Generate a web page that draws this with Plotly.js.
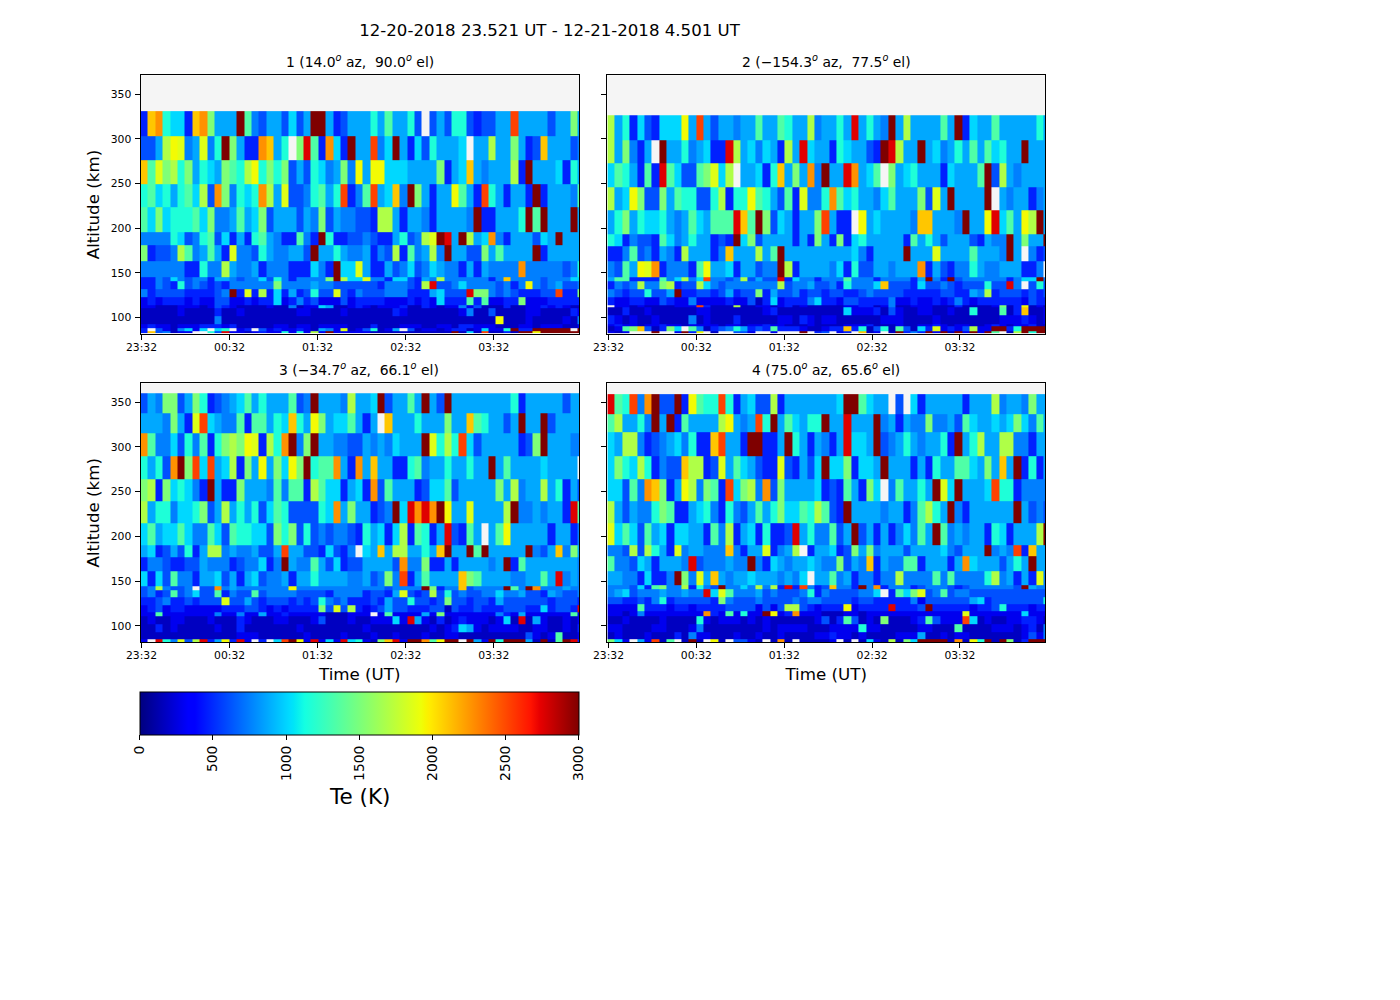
<!DOCTYPE html>
<html><head><meta charset="utf-8">
<script src="https://cdn.plot.ly/plotly-3.0.0.min.js"></script>
<style>html,body{margin:0;padding:0;background:#fff}</style></head>
<body><div id="chart" style="width:1400px;height:1000px"></div>
<script>
// Te level (K) for each letter; "_" marks a missing cell
const teLevels = {a:170,b:290,c:470,d:610,e:750,f:870,g:1010,h:1160,i:1340,j:1515,k:1690,l:1865,m:1935,n:2100,o:2270,p:2525,q:2750,r:3000};

const tickHours = [23.533,24.533,25.533,26.533,27.533];
const tickLabels = ["23:32","00:32","01:32","02:32","03:32"];
const altTicks = [100,150,200,250,300,350];
const cbarTicks = [0,500,1000,1500,2000,2500,3000];

const panelTitles = ["1 (14.0<sup><i>o</i></sup> az,  90.0<sup><i>o</i></sup> el)","2 (−154.3<sup><i>o</i></sup> az,  77.5<sup><i>o</i></sup> el)","3 (−34.7<sup><i>o</i></sup> az,  66.1<sup><i>o</i></sup> el)","4 (75.0<sup><i>o</i></sup> az,  65.6<sup><i>o</i></sup> el)"];

// altitude cell edges (km), top to bottom
const altEdges1 = [331,303,276,249.5,223,196,181.5,163.5,145.6,141,132,123,114,111,102,93,88.6,85,82];
const altEdges2 = [326.4,298.5,273,246,220.4,193.6,180,163.5,145.6,141,132,123,114,111,102,93,89.8,85,82];
const altEdges3 = [360,337.5,315,289.5,264,239,215,190,177,161,144.5,140,132,123,115.5,111,102,93,85.2,82];
const altEdges4 = [359,336.5,316.3,289.5,264,239,215,190,178,161,145.6,141,132,124,116.6,111,102,93,85.5,82];

const panel1Rows = [
"cnohggcnoj fffriedffd gdfrrfcdff fhfiffhd_d fdhhdcddff pffffdffjf",
"ddfkmlefle hrjfcconfh _jqicogcrf fpegrfcgdh fffg_ffkff jfcdnfffde",
"niljkhjfhg fjihkmhjhj dfdhgefjem fmmgggffff jcfgnfefff kcrfffgchf",
"highfhigkd ojehghokfl ddehifhpce ipfgnerjfc ffmifcphfc ffcrcfffei",
"igjghhhigj eefifgjdff fdfejdfeed dckkfcffec ffffercCff fhrirfffrf",
"eeeehgdehi dgcfchifec ciecrhccdd edccfhdekl rqfrkfgoec fffdgfrfff",
"jcddekiefi fcleedhfee ffdrffhfee fcedkciefk erffddjfif fffrcfffff",
"eeeeeecche ekfeefceee cccgecrggl fccfdegdeg feecfcfeee eoeeeeedeh",
"ccedgedeec ffedeegdhe ceeeejrkgg leecggdcfe keeeeeecen eeeedeeegg",
"ccedchdedc dceeeeeeje eeefeedddd ddceeedckq ddegeeeede cemedefdde",
"ecddddcccc derclckcgc fcdhddldce dddeeecccf gdddqjjede dcccddpccj",
"bcbcccbcbb ddbbcbccgb cecdbbbdbc cccbbbcbcb gccciCibbc cjbbbccccc",
"bbaaabbbab dcbaaaabaa eabbgfaabc babbbcaacb abbebdaaac aabbcbcbaa",
"aaaaabaaaa caabaaaaaa abbaaaabaa aaaacbaaaa aaabeaadaa aabbaaaacb",
"aaaaaaaaaa eaaaaaaaaa aaaaaaaaaa aaaaaaaaaa aaaaaaaama aabaaaabae",
"bcbbabbbcc cbcaaaaabb abbabbbbaa acaaabbbaa bbaccbbbaa abbabbbaab",
"c_dbaegbg_ gh_bc_dbcb bcbafeblab dhabf_dabb abccabgbbh rccrrrrr_r",
"cndeabb__h dqbbabcbbh bhbkbrbbbb baaaaaaaaa aaragapaac arrmrrrrrr"
];

const panel2Rows = [
"kfhcgdcggg mfpfdffeff iffihffkef fhfqfhferf kffffifrcg ffifffffhf",
"kfjecf_rff hefgccqkfg egfckfqgff chgffdcrqk ffrfgefhfi fighffrfff",
"gihfcicqig ddijlgk_ff gchnfjfoer ffqofgi_jf ghfffcgfff irdkfeffff",
"kfgmjddjfi hhddhkchhm ihfdicleeh oighffegif ffjdlfrfff fr_feffcef",
"fhjfhgghfe figfiiiqni rjdgfcffjp fcc_mfgfff fenNfffErf fmqgifmkrf",
"hgceddcige fhffcdcrgj dffffcfcjf cjcghfffff cifhfdfffd cfeerfjffr",
"cceidecfec kfffcenfff kfirffffff fffgecffff rffflffffi ffferf_ecd",
"edifmlocee ecimffgcff deerkcffff egchddffef ffocfdceeh feefffcce_",
"fiiccccieg kegpeedekd fddqcgeece eeieeeceee ecfrecrdee eeeeceggre",
"cedekeejkc ddkgedeeee eeekdeefdd echeeegndd dcgddedcdd dhddqe_dhd",
"edcddhddfr ccddcdfcdd jcfddecddc ddccdedddd cccccddccf ekcdddcdcd",
"cbbccbbdcb bebbbbcbbd acgbcccegc cbddccccEb bcbbcbcecb cccccCbdcc",
"_bbabaaaab bbpcaaakaa bbabcabaaa aabbccabea abbbaaacaa aabjacmaba",
"aacaabaaaa aabbaaaaaa abcaaaaaaa aagbbbcadb aabbaabaah aaaiacnaab",
"cbabaabaaa aeabaaacaa aaabbacbab baaaaaabbb aaaabaaaaa aaabbbcbab",
"bcbbabbcbb abbbbabbab bcbbaaabaa aabbbcaaab aabbcbabba abcbabbcaa",
"abijndacjg _ieacdehfc dcicccbaab ccnchadhai dagclbcbdk bbrrchrrrr",
"bab___r__b rcm_a__ddb __b___r_cd _bc_nab_ar cecrbrarbr bri_akrhrr"
];

const panel3Rows = [
"dfejjdfjhc defgifhfff iderfffekf fgrdffifrf drffffffff hcfffffdff",
"fffejfclpg feeiciifhg nhfmjfggif cf_nfffhff fjffnihffd frffrdffff",
"oieegdheic hjkjmlckho rejrffeedd fefegfffrl hkhpgdffff fcdjrfffee",
"hfhdorjpgp fgkcjfmfjg mjrhiiofco fnffcchief fhffhffrfi ffffgffff_",
"jkcjghgecr fccjfffeie iickiggcfg codifffcdg gidfffffjf keffkfhcfd",
"kfhhegghjd fkfhfhdgih ddddhgofjf fcdergqoqo rmfflffffk reefeffcqi",
"gifggigeei gdihhggdjh jdhdedeedc hfgcgkcihc fqdcif_fim fffffcffce",
"fgcdfdhcfk kefeefddfp ffddcgdce_ gfnfkkffhf nrffrirfff ffredfnejf",
"ceedccddfe eecdeegcer feeifdgcdd ffffdoeejc cfcffffefr cifffffffe",
"gcgdieecff gdfcfgdeef cffhffffee fdejepcfif fffnjiffff eeffifqefe",
"dekedde_dd oefeeeeeee meeeeeeeee eeedeeeerj ceendeeeer ieroeeefee",
"decdidegdd iceddideee eddddceeee cddcfldcdk dhdeddeege efddcfedde",
"ccdeccdcdd dlddfdcddd cdcdhedecc cdcfddhddc djddcddcfd dddddcdddc",
"bcdbccbbbb bcccddcbcb ccccjdldkc bcdfddcccd dadccdcccd ddccgcddcq",
"bbibbbbbbb ebbebbfbbc bbbbbaaabb b_bibbbbfb jbbbbbbbec bfbbbbbbib",
"abaabbaaab aaacbaaabb aaabdaaaba abbbgbqfba cabcbbbabg aqafbaabab",
"aacabaaaaa baacaaaaaa abaaaaaaaa baaaaaaaab abcgfbabbb baabbaabac",
"aaaaaaaaaa aaabbbaaaa aabaaaabaa abaabaaaba abbaaaaaaa aadbabiaab",
"b_qheldkqc fmcqb_c_gp rmbqbgbqgh bajnqbrroi mrr_rfbrhr rrfarairqc"
];

const panel4Rows = [
"qihpeorddr cmihhphcfg ddkcffffff fgrrigff_d _gcfffffcf ffkeffejff",
"ikffherfrc iffffkmfef phrfigfhhr ffqfffrefc feejeefdig ffgfgjgeif",
"gfkkecdefg ehccnpffcr rccfrhfcfe cfqggfrdef hfeffhcrfh kffkkeecff",
"gjhgkhcedd nkkcdlfigf dccldcfdgr ggjcggfrff fcfchffiig fjfnfrchcf",
"ggdieonjcf mkejicpgjk eodjffffgc dcifcjg_ei ffhfrlgrff fgphhceeee",
"kfdfeehjic cfghechedf ifhjggihki dcrffffeff ceikhfrecf fffffrfded",
"lgigdifgcg gffciekcfg chccdqfhee idfrdfcfce geifriefef fchgcfffkr",
"eedkdkhfcl effeeeneCf flcefk_cff gcdjfjefff dffffgedff frefepcnff",
"ieedgfcfff eqdeeefeer ecgfeffgfe ejdfencfee iicfffcfog fffdfhfrff",
"ffeecgccer jelfnfeffg fffefeg_ff iefceeceek eeeeieieee ehkefcfcle",
"eeedgcijee kchedreege kekcqcpecd neecreocee ecdeeedcde eeeeedrfee",
"efgdeeefee feeqglieee fdedddehce ddddeeg_ci gjldeideed dddddddddd",
"ddccdcehcd ddddcjeddd eddddedeed dddcddcccc cebddddddf gcdddddddh",
"bbbbicccbc cbccccdddd bdbdkkdcbc ccmbccccqc ccdrcccccb ccdhcccbcc",
"bbabebbbbb bbbocbibhb brmbcobbba aabbabbbbb bbbbbbbblb bbbbbbgbbb",
"aabaaaabaa aahbabbbab abaaaaaabd acidabajaa abcidbbbpg abaabbccba",
"bbaaaabbaa abeaaaaaaa ababbbbaaa bbbbhbbaaa aabbaaaiaa aabbbabcae",
"abaaabaaac aebbaaabaa baabaaaabb cbbabaaaab bbfaababba aaaaaabdbe",
"jgb_fbpai_ ara_ma_ddb a_aoa_aaaa b_a_agbaka jgrrrraoam hrarjacrrr"
];

function decodeRows(rows){
  return rows.map(function(s){
    var t = s.toLowerCase().replace(/[^a-r_]/g,"");
    var out = [];
    for (var i=0;i<60;i++){
      var ch = t[Math.min(i,t.length-1)];
      out.push(ch==="_" ? null : teLevels[ch]);
    }
    return out;
  }).reverse();
}

const jet = [[0,"rgb(0,0,127)"],[0.11,"rgb(0,0,255)"],[0.125,"rgb(0,0,255)"],[0.34,"rgb(0,219,255)"],[0.35,"rgb(0,229,247)"],[0.375,"rgb(20,255,226)"],[0.64,"rgb(238,255,8)"],[0.65,"rgb(247,246,0)"],[0.66,"rgb(255,236,0)"],[0.89,"rgb(255,19,0)"],[0.91,"rgb(232,0,0)"],[1,"rgb(127,0,0)"]];

const startHour = 23.521, endHour = 28.501, cellHours = 0.0841;
const xEdges = [];
for (var k=0;k<=60;k++) xEdges.push(startHour + k*cellHours);

const W=1400,H=1000;
const boxes = [[140.5,579,75.4,333.6],[607.4,1045,75.4,333.6],[140.5,579,383.4,642],[607.4,1045,383.4,642]];
const rowsAll = [panel1Rows,panel2Rows,panel3Rows,panel4Rows];
const edgesAll = [altEdges1,altEdges2,altEdges3,altEdges4];
const FONT = "DejaVu Sans";

const traces=[]; const layout={
  width:W,height:H,margin:{l:0,r:0,t:0,b:0},paper_bgcolor:"#fff",plot_bgcolor:"#f5f5f5",showlegend:false,
  font:{family:FONT,color:"#000"},
  title:{text:"12-20-2018 23.521 UT - 12-21-2018 4.501 UT",font:{family:FONT,size:16.6,color:"#000"},x:549.5/W,xanchor:"center",y:1-30/H,yanchor:"middle"},
  annotations:[{xref:"paper",yref:"paper",x:360/W,y:1-796/H,xanchor:"center",yanchor:"middle",showarrow:false,text:"Te (K)",font:{family:FONT,size:21.5,color:"#000"}}]
};
const titleFix=[360,826.5,359,826.5];
boxes.forEach(function(b,i){
  const n = i===0?"":String(i+1);
  traces.push({type:"heatmap",xaxis:"x"+n,yaxis:"y"+n,x:xEdges,y:edgesAll[i].slice().reverse(),z:decodeRows(rowsAll[i]),
    zmin:0,zmax:3000,colorscale:jet,hoverongaps:false,showscale:i===0,
    colorbar:{orientation:"h",x:139.8/W,xanchor:"left",xpad:0,ypad:0,y:1-692/H,yanchor:"top",lenmode:"pixels",len:438.5,thicknessmode:"pixels",thickness:43,
      outlinecolor:"#000",outlinewidth:1,ticks:"outside",ticklen:5,tickcolor:"#000",tickmode:"array",tickvals:cbarTicks,ticktext:cbarTicks.map(String),tickangle:-90,tickfont:{family:FONT,size:13.9,color:"#000"}}});
  layout["xaxis"+n]={anchor:"y"+n,domain:[b[0]/W,b[1]/W],range:[startHour,endHour],tickmode:"array",tickvals:tickHours,ticktext:tickLabels,ticks:"outside",ticklen:5,ticklabelstandoff:-2,tickcolor:"#000",tickfont:{family:FONT,size:10.8,color:"#000"},showgrid:false,zeroline:false,showline:true,linecolor:"#000",linewidth:1,mirror:true,
    title:i>1?{text:"Time (UT)",font:{family:FONT,size:16.7,color:"#000"},standoff:7}:undefined,automargin:false};
  layout["yaxis"+n]={anchor:"x"+n,domain:[1-b[3]/H,1-b[2]/H],range:[82,371],tickmode:"array",tickvals:altTicks,ticktext:altTicks.map(String),showticklabels:i%2===0,ticks:"outside",ticklen:5,ticklabelstandoff:1,tickcolor:"#000",tickfont:{family:FONT,size:10.8,color:"#000"},showgrid:false,zeroline:false,showline:true,linecolor:"#000",linewidth:1,mirror:true,
    title:i%2===0?{text:"Altitude (km)",font:{family:FONT,size:16.7,color:"#000"},standoff:6}:undefined,automargin:false};
  layout.annotations.push({xref:"paper",yref:"paper",x:titleFix[i]/W,y:1-(b[2]-14.5)/H,xanchor:"center",yanchor:"middle",showarrow:false,text:panelTitles[i],font:{family:FONT,size:13.9,color:"#000"}});
});
Plotly.newPlot("chart",traces,layout,{displayModeBar:false,staticPlot:true});
</script></body></html>
